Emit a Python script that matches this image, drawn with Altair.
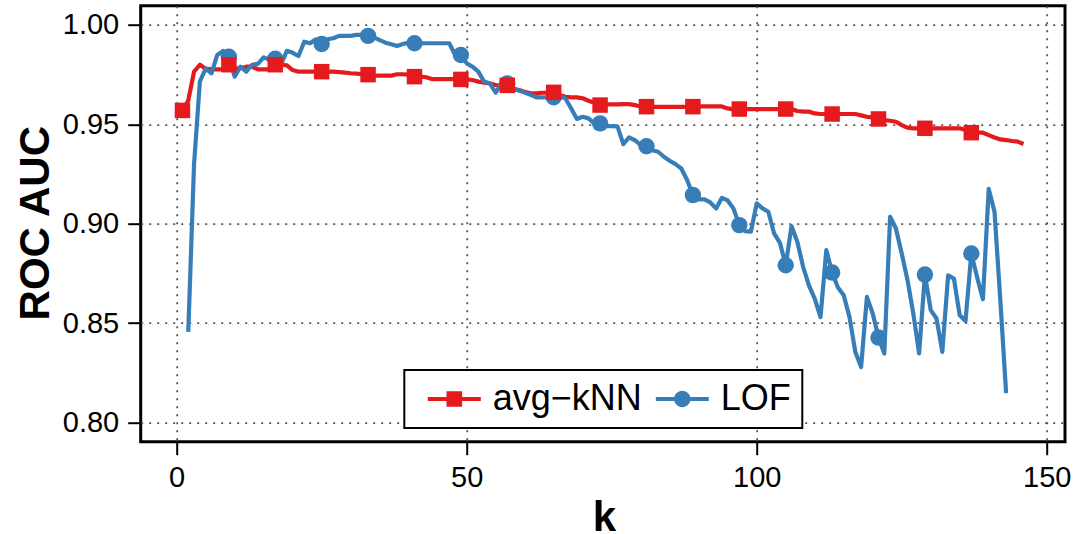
import altair as alt
import pandas as pd

KNN_LABEL = "avg\u2212kNN"
LOF_LABEL = "LOF"
RED = "#E41A1C"
BLUE = "#377EB8"
FONT = "Liberation Sans"

# ROC AUC of the average-kNN outlier score for k = 1..146
k_knn = list(range(1, 147))
auc_knn = [
    0.9570, 0.9620, 0.9765, 0.9800, 0.9780, 0.9777, 0.9777, 0.9777, 0.9800, 0.9782,
    0.9782, 0.9790, 0.9790, 0.9777, 0.9777, 0.9777, 0.9800, 0.9800, 0.9797, 0.9773,
    0.9765, 0.9765, 0.9765, 0.9765, 0.9765, 0.9765, 0.9765, 0.9763, 0.9760, 0.9757,
    0.9755, 0.9752, 0.9750, 0.9745, 0.9745, 0.9745, 0.9745, 0.9752, 0.9752, 0.9750,
    0.9740, 0.9740, 0.9737, 0.9728, 0.9728, 0.9728, 0.9728, 0.9728, 0.9726, 0.9726,
    0.9723, 0.9715, 0.9710, 0.9706, 0.9698, 0.9696, 0.9696, 0.9680, 0.9673, 0.9664,
    0.9656, 0.9656, 0.9659, 0.9659, 0.9661, 0.9648, 0.9639, 0.9636, 0.9636, 0.9631,
    0.9619, 0.9609, 0.9597, 0.9600, 0.9600, 0.9600, 0.9602, 0.9602, 0.9597, 0.9589,
    0.9589, 0.9588, 0.9588, 0.9588, 0.9588, 0.9588, 0.9588, 0.9588, 0.9589, 0.9590,
    0.9590, 0.9590, 0.9590, 0.9590, 0.9580, 0.9575, 0.9577, 0.9577, 0.9577, 0.9577,
    0.9577, 0.9577, 0.9577, 0.9577, 0.9577, 0.9577, 0.9567, 0.9564, 0.9564, 0.9555,
    0.9552, 0.9552, 0.9552, 0.9552, 0.9552, 0.9552, 0.9552, 0.9545, 0.9538, 0.9535,
    0.9527, 0.9522, 0.9518, 0.9513, 0.9496, 0.9483, 0.9480, 0.9480, 0.9480, 0.9480,
    0.9480, 0.9480, 0.9480, 0.9480, 0.9480, 0.9471, 0.9458, 0.9458, 0.9458, 0.9446,
    0.9434, 0.9424, 0.9421, 0.9416, 0.9413, 0.9401,
]

# ROC AUC of LOF for k = 2..143
k_lof = list(range(2, 144))
auc_lof = [
    0.8456, 0.9300, 0.9715, 0.9780, 0.9757, 0.9849, 0.9869, 0.9840, 0.9740,
    0.9790, 0.9765, 0.9800, 0.9804, 0.9837, 0.9824, 0.9830, 0.9800, 0.9870, 0.9860,
    0.9844, 0.9916, 0.9908, 0.9928, 0.9904, 0.9928, 0.9933, 0.9945, 0.9945, 0.9945,
    0.9950, 0.9950, 0.9945, 0.9938, 0.9924, 0.9911, 0.9903, 0.9894, 0.9904, 0.9911,
    0.9908, 0.9908, 0.9908, 0.9908, 0.9908, 0.9908, 0.9908, 0.9850, 0.9849, 0.9807,
    0.9790, 0.9765, 0.9715, 0.9706, 0.9659, 0.9706, 0.9706, 0.9676, 0.9670, 0.9660,
    0.9648, 0.9636, 0.9636, 0.9636, 0.9636, 0.9640, 0.9631, 0.9581, 0.9527, 0.9538,
    0.9530, 0.9505, 0.9505, 0.9491, 0.9491, 0.9490, 0.9400, 0.9434, 0.9420, 0.9396,
    0.9390, 0.9370, 0.9362, 0.9337, 0.9317, 0.9300, 0.9278, 0.9220, 0.9144, 0.9122,
    0.9122, 0.9107, 0.9077, 0.9130, 0.9117, 0.9076, 0.8993, 0.8963, 0.8960, 0.9102,
    0.9077, 0.9060, 0.8951, 0.8904, 0.8791, 0.8988, 0.8909, 0.8783, 0.8690, 0.8623,
    0.8530, 0.8867, 0.8754, 0.8679, 0.8640, 0.8530, 0.8355, 0.8279, 0.8632, 0.8548,
    0.8427, 0.8347, 0.9035, 0.8976, 0.8850, 0.8716, 0.8548, 0.8347, 0.8744, 0.8565,
    0.8523, 0.8355, 0.8740, 0.8724, 0.8539, 0.8511, 0.8850, 0.8730, 0.8620, 0.9175,
    0.9060, 0.8615, 0.8148,
]

x_ticks = [0, 50, 100, 150]
y_ticks = [0.80, 0.85, 0.90, 0.95, 1.00]
x_domain = [-6.2, 153.15]
y_domain = [0.7903, 1.0097]
marker_step = 8     # a marker on every 8th k, starting at k = 1
marker_last_k = 140  # no markers past this k

knn = pd.DataFrame({"k": k_knn, "auc": auc_knn, "series": KNN_LABEL})
lof = pd.DataFrame({"k": k_lof, "auc": auc_lof, "series": LOF_LABEL})
knn_marks = knn[(knn["k"] % marker_step == 1) & (knn["k"] <= marker_last_k)]
lof_marks = lof[(lof["k"] % marker_step == 1) & (lof["k"] <= marker_last_k)]

x_enc = alt.X(
    "k:Q",
    scale=alt.Scale(domain=x_domain, nice=False, zero=False),
    axis=alt.Axis(
        values=x_ticks, format="d", title="k", labelFlush=False,
        titleX=463.3, titleY=88.3, titleBaseline="alphabetic", titleAlign="center",
    ),
)
y_enc = alt.Y(
    "auc:Q",
    scale=alt.Scale(domain=y_domain, nice=False, zero=False),
    axis=alt.Axis(
        values=y_ticks, format=".2f", title="ROC AUC", labelFlush=False,
        titleAngle=270, titleX=-92, titleY=217, titleBaseline="alphabetic",
        titleAlign="center",
    ),
)

line_style = dict(strokeWidth=4.2, strokeJoin="round", strokeCap="butt")
line_knn = alt.Chart(knn).mark_line(color=RED, **line_style).encode(x=x_enc, y=y_enc)
line_lof = alt.Chart(lof).mark_line(color=BLUE, **line_style).encode(x=x_enc, y=y_enc)
pts_lof = alt.Chart(lof_marks).mark_point(
    shape="circle", filled=True, color=BLUE, size=270, opacity=1
).encode(x=x_enc, y=y_enc)
pts_knn = alt.Chart(knn_marks).mark_point(
    shape="square", filled=True, color=RED, size=240, opacity=1
).encode(x=x_enc, y=y_enc)

# Legend symbols: a short line with the series marker on it (units scaled by 15 px)
sym_knn = ("M-1.767,-0.14 L1.767,-0.14 L1.767,0.14 L-1.767,0.14 Z "
           "M-0.52,-0.52 L0.52,-0.52 L0.52,0.52 L-0.52,0.52 Z")
sym_lof = ("M-1.767,-0.14 L1.767,-0.14 L1.767,0.14 L-1.767,0.14 Z "
           "M0.547,0 A0.547,0.547 0 1,1 -0.547,0 A0.547,0.547 0 1,1 0.547,0 Z")

legend = alt.Legend(
    title=None, orient="none", legendX=263.6, legendY=364.3,
    direction="horizontal", padding=11, strokeColor="black", fillColor="white",
    symbolSize=900, symbolOffset=21, labelOffset=20.4, columnPadding=1,
    symbolStrokeWidth=0, labelFontSize=36, labelFont=FONT, labelColor="black",
    labelLimit=400, zindex=1,
)
series_domain = [KNN_LABEL, LOF_LABEL]
legend_layer = alt.Chart(pd.concat([knn, lof])).transform_filter("false").mark_point(
    filled=True, size=900, opacity=1
).encode(
    color=alt.Color("series:N", scale=alt.Scale(domain=series_domain, range=[RED, BLUE]),
                    legend=legend),
    shape=alt.Shape("series:N", scale=alt.Scale(domain=series_domain, range=[sym_knn, sym_lof]),
                    legend=legend),
)

chart = alt.layer(line_knn, line_lof, pts_lof, pts_knn, legend_layer).properties(
    width=924.3,
    height=436,
    autosize=alt.AutoSizeParams(type="none"),
    padding={"left": 140.7, "top": 5.7, "right": 9, "bottom": 92.3},
    background="white",
).configure_view(
    stroke="black", strokeWidth=3,
).configure_axis(
    labelFont=FONT, labelFontSize=29, labelColor="black", labelPadding=9,
    titleFont=FONT, titleFontSize=42, titleFontWeight="bold", titleColor="black",
    tickSize=13, tickWidth=2, tickColor="black", domain=False,
    grid=True, gridColor="#555555", gridDash=[2, 6], gridWidth=1.8, gridOpacity=1,
).configure_legend(
    strokeWidth=2,
)

chart.save("out.html", embed_options={"renderer": "svg", "actions": False})
